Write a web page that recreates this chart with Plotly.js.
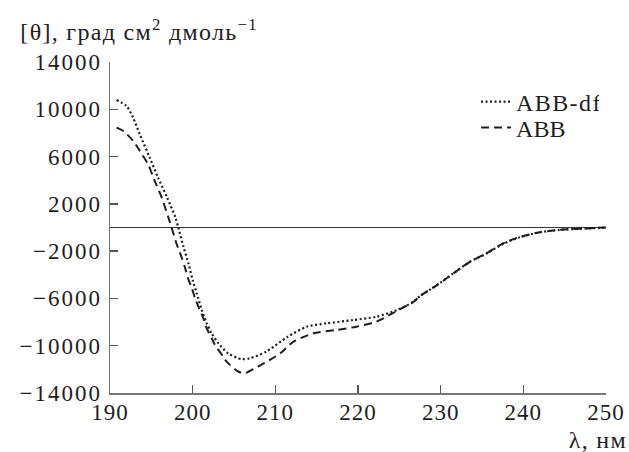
<!DOCTYPE html>
<html>
<head>
<meta charset="utf-8">
<script src="https://cdn.plot.ly/plotly-3.0.1.min.js"></script>
<style>
html,body{margin:0;padding:0;background:#fff;}
#chart{width:629px;height:452px;}
#chart .ytick text{letter-spacing:2px;}
#chart .xtick text{letter-spacing:1px;}
#chart .legendtext{letter-spacing:1.4px;}
#chart .annotation-text{letter-spacing:1.3px;}
</style>
</head>
<body>
<div id="chart"></div>
<script>
// ABB-df (dotted)
const dfX = [190.8, 192.0, 192.8, 193.6, 194.8, 195.8, 196.9, 197.9, 198.3, 198.9, 199.5, 200.0, 200.5, 201.1, 201.7, 202.3, 203.1, 204.3, 205.9, 206.9, 208.9, 211.5, 213.8, 216.2, 219.4, 222.2, 224.7, 226.7, 227.5, 229.5, 231.5, 233.5, 235.5, 237.6, 239.6, 242.0, 244.4, 246.8, 248.6, 250.0];
const dfY = [10780, 10270, 9290, 7890, 5920, 4240, 2550, 870, -100, -1660, -3060, -4460, -5580, -6990, -8110, -8950, -9790, -10640, -11140, -11060, -10500, -9240, -8390, -8110, -7830, -7550, -6990, -6290, -5800, -4900, -3900, -2920, -2220, -1370, -820, -400, -200, -110, -50, 0];
// ABB (dashed)
const abbX = [190.8, 191.6, 192.8, 193.6, 194.6, 195.4, 196.25, 197.05, 197.45, 198.05, 198.65, 199.05, 199.45, 199.85, 200.3, 200.7, 201.3, 201.7, 202.3, 202.7, 203.7, 204.1, 205.5, 206.3, 207.9, 209.35, 210.6, 212.2, 214.6, 217.4, 219.8, 222.2, 224.5, 226.7, 227.5, 229.5, 231.5, 233.5, 235.5, 237.6, 239.6, 242.0, 244.4, 246.8, 248.6, 250.0];
const abbY = [8450, 8170, 7330, 6480, 5360, 3960, 2550, 870, 0, -1370, -2500, -3340, -4320, -5030, -6010, -6710, -7690, -8530, -9370, -9940, -10920, -11340, -12180, -12320, -11760, -11200, -10640, -9660, -8950, -8670, -8390, -7970, -7130, -6290, -5800, -4900, -3900, -2920, -2200, -1330, -800, -400, -200, -110, -50, 0];

const xTicks = [190, 200, 210, 220, 230, 240, 250];
const yTicks = [-14000, -10000, -6000, -2000, 2000, 6000, 10000, 14000];
const yTickText = ['\u221214000', '\u221210000', '\u22126000', '\u22122000', '2000', '6000', '10000', '14000'];
const seriesNames = ['ABB-df', 'ABB'];
const yTitle = '[\u03b8], град см<sup>2</sup> дмоль<sup>\u22121</sup>';
const xTitle = '\u03bb, нм';

const FONT = 'Liberation Serif, Times New Roman, serif';
const INK = '#1e1e1e';

const traces = [
  {x: dfX, y: dfY, name: seriesNames[0], legend: 'legend', mode: 'lines', line: {color: INK, width: 2.2, dash: '2px,2.5px', shape: 'spline', smoothing: 0.7}},
  {x: abbX, y: abbY, name: seriesNames[1], legend: 'legend2', mode: 'lines', line: {color: INK, width: 2, dash: '8px,5px', shape: 'spline', smoothing: 0.7}}
];

const legendBase = {xanchor: 'left', yanchor: 'middle', bgcolor: 'rgba(0,0,0,0)', borderwidth: 0, font: {size: 24, family: FONT, color: INK}};

const layout = {
  width: 629, height: 452,
  margin: {l: 110, r: 23, t: 62, b: 59},
  paper_bgcolor: '#fff', plot_bgcolor: '#fff',
  font: {family: FONT, color: INK, size: 23},
  showlegend: true,
  legend: Object.assign({x: 0.738, y: 0.879}, legendBase),
  legend2: Object.assign({x: 0.738, y: 0.801}, legendBase),
  xaxis: {
    range: [190, 250], tickvals: xTicks, ticks: 'inside', ticklen: 8, tickwidth: 1.5, tickcolor: '#555',
    showline: true, linecolor: '#777', linewidth: 1.5, showgrid: false, zeroline: false,
    tickfont: {size: 23, family: FONT, color: INK}, ticklabelstandoff: -2
  },
  yaxis: {
    range: [-14000, 14000], tickvals: yTicks, ticktext: yTickText, ticks: 'inside', ticklen: 8, tickwidth: 1.5, tickcolor: '#555',
    showline: true, linecolor: '#777', linewidth: 1.5, showgrid: false,
    zeroline: true, zerolinecolor: '#333', zerolinewidth: 1.5,
    tickfont: {size: 23, family: FONT, color: INK}, ticklabelstandoff: 2
  },
  annotations: [
    {text: yTitle, xref: 'paper', yref: 'paper', x: -0.157, y: 1.097, xanchor: 'left', yanchor: 'middle', showarrow: false, font: {size: 24, family: FONT, color: INK}},
    {text: xTitle, xref: 'paper', yref: 'paper', x: 1.04, y: -0.142, xanchor: 'right', yanchor: 'middle', showarrow: false, font: {size: 24, family: FONT, color: INK}}
  ]
};

Plotly.newPlot('chart', traces, layout, {displayModeBar: false, staticPlot: true});
</script>
</body>
</html>
